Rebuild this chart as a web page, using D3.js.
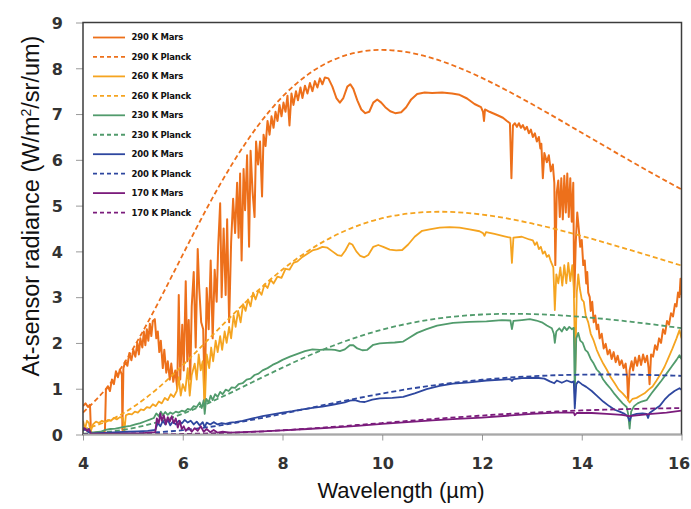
<!DOCTYPE html>
<html><head><meta charset="utf-8">
<script src="https://cdn.jsdelivr.net/npm/d3@7"></script>
<style>html,body{margin:0;padding:0;background:#fff;} svg{display:block;}</style>
</head><body>
<svg id="c" width="691" height="509"></svg>
<script>
// ---------- DATA ----------
const xTicks = [4, 6, 8, 10, 12, 14, 16];
const yTicks = [0, 1, 2, 3, 4, 5, 6, 7, 8, 9];
const legendLabels = ["290 K Mars","290 K Planck","260 K Mars","260 K Planck","230 K Mars","230 K Planck","200 K Mars","200 K Planck","170 K Mars","170 K Planck"];
const seriesColors = ["#ED701B","#F5A420","#519B6C","#2E479F","#7B1C7C"];

const planckWl = [4,4.5,5,5.5,6,6.5,7,7.5,8,8.5,9,9.5,10,10.5,11,11.5,12,12.5,13,13.5,14,14.5,15,15.5,16];
const planck290 = [0.478,1.051,1.870,2.862,3.928,4.974,5.925,6.734,7.380,7.856,8.173,8.348,8.401,8.352,8.222,8.029,7.789,7.515,7.218,6.909,6.591,6.274,5.960,5.653,5.354];
const planck260 = [0.114,0.295,0.595,1.010,1.513,2.061,2.614,3.137,3.604,4.000,4.318,4.558,4.724,4.824,4.864,4.855,4.804,4.720,4.610,4.480,4.336,4.181,4.021,3.856,3.691];
const planck230 = [0.019,0.059,0.140,0.272,0.454,0.679,0.932,1.198,1.461,1.710,1.934,2.129,2.291,2.419,2.516,2.582,2.621,2.636,2.630,2.607,2.569,2.520,2.461,2.395,2.323];
const planck200 = [0.002,0.007,0.022,0.049,0.095,0.160,0.244,0.343,0.452,0.567,0.682,0.792,0.895,0.989,1.070,1.139,1.196,1.240,1.272,1.295,1.307,1.311,1.307,1.297,1.281];
const planck170 = [0.000,0.000,0.002,0.005,0.011,0.023,0.040,0.063,0.092,0.127,0.166,0.208,0.251,0.295,0.337,0.377,0.414,0.448,0.478,0.504,0.526,0.544,0.558,0.569,0.576];

const mars290 = [[4.00,0.62],[4.05,0.68],[4.10,0.60],[4.14,0.65],[4.16,0.05],[4.20,0.03],[4.30,0.05],[4.40,0.04],[4.44,0.08],[4.46,0.98],[4.50,1.05],[4.54,0.95],[4.58,1.20],[4.62,1.10],[4.66,1.38],[4.70,1.25],[4.74,1.42],[4.78,1.30],[4.79,0.10],[4.81,1.45],[4.85,1.60],[4.89,1.50],[4.93,1.78],[4.97,1.62],[5.01,1.85],[5.05,1.70],[5.09,2.00],[5.12,1.75],[5.15,2.10],[5.19,1.90],[5.22,2.25],[5.25,1.95],[5.28,2.30],[5.31,2.05],[5.34,2.42],[5.37,2.15],[5.40,2.48],[5.44,2.52],[5.47,2.10],[5.50,2.25],[5.53,1.80],[5.56,2.05],[5.60,1.45],[5.63,1.85],[5.67,1.35],[5.70,1.60],[5.74,1.20],[5.77,1.55],[5.81,1.15],[5.85,1.40],[5.89,1.00],[5.92,3.05],[5.95,1.20],[5.99,2.40],[6.02,1.40],[6.06,3.35],[6.09,1.60],[6.12,2.50],[6.15,1.20],[6.18,2.80],[6.22,3.55],[6.26,1.90],[6.30,4.05],[6.33,3.20],[6.37,2.45],[6.41,2.30],[6.44,0.75],[6.48,3.20],[6.52,2.30],[6.56,3.80],[6.60,2.10],[6.64,3.60],[6.68,2.90],[6.71,4.10],[6.75,5.05],[6.78,3.00],[6.82,4.50],[6.86,3.05],[6.89,4.70],[6.93,2.45],[6.97,4.20],[7.01,5.15],[7.05,4.40],[7.09,5.50],[7.12,4.30],[7.15,5.70],[7.18,3.80],[7.22,5.80],[7.25,4.90],[7.29,6.10],[7.33,4.10],[7.36,6.20],[7.40,5.30],[7.44,4.75],[7.47,6.40],[7.51,5.90],[7.55,6.40],[7.59,5.20],[7.62,6.55],[7.66,6.30],[7.70,6.85],[7.74,6.55],[7.78,6.95],[7.82,6.70],[7.86,7.05],[7.90,6.85],[7.94,7.20],[7.98,6.95],[8.02,7.25],[8.06,7.05],[8.10,7.40],[8.14,6.75],[8.18,7.45],[8.22,7.20],[8.27,7.50],[8.31,7.30],[8.36,7.58],[8.40,7.35],[8.45,7.62],[8.50,7.45],[8.55,7.68],[8.60,7.50],[8.65,7.72],[8.70,7.58],[8.75,7.78],[8.80,7.65],[8.85,7.80],[8.92,7.78],[9.00,7.60],[9.08,7.35],[9.15,7.25],[9.22,7.35],[9.30,7.60],[9.36,7.65],[9.42,7.55],[9.50,7.30],[9.58,7.10],[9.66,7.02],[9.74,7.05],[9.82,7.25],[9.90,7.32],[9.98,7.25],[10.06,7.15],[10.16,7.06],[10.26,7.02],[10.38,7.04],[10.48,7.15],[10.58,7.32],[10.70,7.44],[10.85,7.47],[11.0,7.46],[11.2,7.47],[11.4,7.45],[11.55,7.42],[11.7,7.34],[11.85,7.22],[11.98,7.15],[12.02,7.05],[12.04,6.85],[12.06,7.10],[12.15,7.05],[12.30,6.98],[12.42,6.92],[12.50,6.85],[12.56,6.80],[12.59,5.60],[12.62,6.75],[12.66,6.80],[12.70,6.72],[12.74,6.80],[12.78,6.70],[12.82,6.76],[12.86,6.66],[12.90,6.72],[12.94,6.58],[12.98,6.66],[13.02,6.50],[13.06,6.58],[13.10,6.40],[13.14,6.50],[13.17,6.25],[13.19,6.35],[13.22,5.60],[13.25,6.15],[13.30,5.95],[13.34,6.10],[13.38,5.75],[13.42,5.90],[13.45,5.50],[13.47,3.70],[13.50,5.30],[13.53,5.55],[13.56,4.75],[13.59,5.60],[13.62,4.70],[13.65,5.65],[13.68,4.85],[13.71,5.70],[13.74,4.75],[13.77,5.60],[13.80,4.65],[13.83,5.50],[13.85,3.00],[13.88,4.20],[13.91,4.85],[13.94,4.50],[13.97,4.10],[14.00,4.25],[14.03,3.70],[14.06,3.80],[14.09,3.30],[14.11,3.55],[14.13,3.10],[14.16,3.00],[14.18,2.70],[14.21,2.90],[14.24,2.45],[14.27,2.60],[14.30,2.30],[14.33,2.40],[14.36,2.10],[14.40,2.20],[14.44,1.88],[14.48,1.98],[14.52,1.75],[14.56,1.85],[14.60,1.65],[14.64,1.80],[14.68,1.58],[14.72,1.72],[14.76,1.52],[14.80,1.62],[14.84,1.45],[14.88,1.55],[14.91,1.25],[14.93,0.75],[14.96,1.40],[15.00,1.60],[15.03,1.40],[15.07,1.68],[15.11,1.50],[15.15,1.72],[15.19,1.52],[15.23,1.75],[15.27,1.58],[15.31,1.72],[15.34,1.45],[15.36,1.10],[15.39,1.75],[15.43,1.70],[15.47,1.95],[15.51,1.85],[15.55,2.10],[15.59,2.00],[15.63,2.30],[15.67,2.20],[15.71,2.48],[15.75,2.40],[15.79,2.65],[15.83,2.58],[15.87,2.85],[15.90,2.80],[15.93,3.10],[15.96,3.00],[15.98,3.40],[16.00,3.05]];

const mars260 = [[4.00,0.30],[4.04,0.12],[4.08,0.30],[4.12,0.25],[4.15,0.05],[4.20,0.22],[4.26,0.28],[4.32,0.25],[4.38,0.30],[4.44,0.27],[4.50,0.32],[4.56,0.30],[4.62,0.36],[4.68,0.33],[4.74,0.38],[4.80,0.36],[4.83,0.08],[4.86,0.42],[4.92,0.45],[4.98,0.44],[5.04,0.50],[5.10,0.48],[5.16,0.55],[5.22,0.53],[5.28,0.60],[5.34,0.58],[5.40,0.66],[5.46,0.62],[5.52,0.72],[5.58,0.68],[5.64,0.80],[5.70,0.75],[5.76,0.88],[5.82,0.82],[5.88,0.95],[5.92,1.25],[5.96,0.85],[6.00,1.10],[6.05,0.95],[6.10,1.45],[6.14,0.85],[6.18,1.30],[6.24,1.55],[6.28,1.20],[6.32,1.75],[6.36,1.40],[6.40,1.60],[6.44,0.55],[6.48,1.75],[6.53,1.45],[6.57,1.90],[6.61,1.60],[6.66,2.05],[6.70,1.80],[6.75,2.15],[6.79,1.85],[6.84,2.25],[6.88,2.00],[6.93,2.35],[6.97,2.10],[7.02,2.60],[7.06,2.35],[7.11,2.70],[7.16,2.45],[7.21,2.85],[7.26,2.70],[7.31,2.95],[7.36,2.80],[7.41,3.10],[7.46,2.95],[7.52,3.15],[7.58,3.05],[7.64,3.28],[7.70,3.20],[7.76,3.38],[7.82,3.30],[7.90,3.45],[7.98,3.42],[8.06,3.62],[8.14,3.60],[8.22,3.75],[8.30,3.78],[8.40,3.88],[8.50,3.95],[8.60,4.02],[8.70,4.05],[8.80,4.10],[8.90,4.08],[9.00,4.00],[9.10,3.92],[9.18,3.90],[9.26,4.02],[9.34,4.18],[9.40,4.15],[9.48,4.00],[9.56,3.90],[9.64,3.87],[9.72,3.92],[9.82,4.10],[9.92,4.14],[10.02,4.10],[10.15,4.04],[10.28,4.02],[10.40,4.03],[10.52,4.15],[10.65,4.32],[10.80,4.45],[10.95,4.48],[11.15,4.52],[11.35,4.53],[11.55,4.52],[11.75,4.48],[11.95,4.44],[12.02,4.40],[12.05,4.34],[12.08,4.42],[12.25,4.38],[12.45,4.33],[12.57,4.30],[12.60,3.75],[12.63,4.30],[12.80,4.32],[12.95,4.26],[13.02,4.24],[13.06,4.14],[13.10,4.20],[13.14,4.05],[13.18,4.10],[13.22,3.95],[13.26,4.00],[13.30,3.88],[13.34,3.92],[13.38,3.78],[13.43,3.65],[13.46,2.72],[13.49,3.50],[13.53,3.30],[13.57,3.65],[13.61,3.25],[13.65,3.70],[13.69,3.30],[13.73,3.75],[13.77,3.35],[13.81,3.70],[13.84,3.20],[13.87,1.40],[13.90,3.10],[13.93,3.50],[13.96,3.20],[14.00,2.95],[14.04,2.90],[14.08,2.60],[14.13,2.45],[14.18,2.20],[14.24,2.05],[14.30,1.85],[14.36,1.70],[14.43,1.55],[14.50,1.42],[14.58,1.25],[14.66,1.12],[14.74,0.98],[14.82,0.90],[14.90,0.80],[14.96,0.70],[15.02,0.78],[15.10,0.80],[15.18,0.85],[15.26,0.90],[15.34,0.98],[15.42,1.05],[15.50,1.18],[15.58,1.32],[15.66,1.48],[15.74,1.68],[15.82,1.88],[15.90,2.10],[15.96,2.28],[16.00,2.10]];

const mars230 = [[4.00,0.15],[4.05,0.10],[4.12,0.12],[4.16,0.04],[4.25,0.05],[4.35,0.06],[4.45,0.10],[4.55,0.12],[4.65,0.13],[4.75,0.15],[4.85,0.17],[4.95,0.19],[5.05,0.22],[5.15,0.25],[5.25,0.29],[5.35,0.33],[5.42,0.36],[5.47,0.46],[5.52,0.40],[5.56,0.50],[5.60,0.42],[5.65,0.49],[5.70,0.43],[5.75,0.48],[5.80,0.45],[5.86,0.50],[5.92,0.48],[5.98,0.52],[6.04,0.50],[6.10,0.56],[6.16,0.54],[6.22,0.62],[6.28,0.60],[6.34,0.70],[6.38,0.58],[6.42,0.75],[6.44,0.45],[6.47,0.78],[6.52,0.70],[6.56,0.85],[6.60,0.75],[6.65,0.88],[6.70,0.82],[6.75,0.93],[6.80,0.88],[6.86,0.98],[6.92,0.95],[6.98,1.03],[7.05,1.02],[7.12,1.10],[7.20,1.12],[7.28,1.20],[7.36,1.22],[7.44,1.30],[7.52,1.33],[7.60,1.40],[7.70,1.45],[7.80,1.52],[7.90,1.57],[8.00,1.63],[8.15,1.70],[8.30,1.76],[8.45,1.82],[8.60,1.86],[8.75,1.85],[8.90,1.86],[9.05,1.85],[9.15,1.82],[9.25,1.86],[9.35,1.95],[9.42,1.95],[9.50,1.88],[9.60,1.84],[9.70,1.85],[9.82,1.96],[9.95,1.99],[10.10,2.00],[10.25,2.01],[10.42,2.03],[10.55,2.12],[10.70,2.22],[10.89,2.30],[11.10,2.38],[11.42,2.44],[11.75,2.46],[12.09,2.47],[12.40,2.50],[12.57,2.49],[12.60,2.30],[12.63,2.48],[12.80,2.50],[12.96,2.52],[13.09,2.49],[13.20,2.45],[13.30,2.38],[13.40,2.32],[13.44,2.20],[13.46,2.00],[13.49,2.25],[13.55,2.32],[13.60,2.25],[13.65,2.35],[13.70,2.28],[13.75,2.35],[13.80,2.30],[13.84,2.33],[13.86,0.90],[13.89,2.10],[13.93,2.22],[13.97,2.05],[14.02,2.00],[14.07,1.85],[14.12,1.80],[14.18,1.65],[14.24,1.55],[14.30,1.42],[14.36,1.35],[14.43,1.20],[14.50,1.10],[14.58,1.00],[14.66,0.88],[14.74,0.78],[14.82,0.68],[14.90,0.60],[14.93,0.45],[14.96,0.13],[14.99,0.50],[15.05,0.62],[15.12,0.68],[15.20,0.72],[15.30,0.75],[15.40,0.90],[15.50,1.04],[15.60,1.18],[15.70,1.33],[15.80,1.48],[15.90,1.63],[15.96,1.73],[16.00,1.65]];

const mars200 = [[4.00,0.08],[4.05,0.12],[4.10,0.06],[4.16,0.02],[4.30,0.03],[4.50,0.04],[4.70,0.05],[4.90,0.06],[5.10,0.07],[5.30,0.08],[5.45,0.10],[5.50,0.25],[5.55,0.18],[5.60,0.30],[5.65,0.22],[5.70,0.32],[5.75,0.20],[5.80,0.28],[5.86,0.22],[5.92,0.30],[5.98,0.24],[6.04,0.32],[6.10,0.26],[6.16,0.30],[6.22,0.22],[6.28,0.28],[6.34,0.20],[6.40,0.27],[6.44,0.16],[6.48,0.26],[6.55,0.22],[6.62,0.27],[6.70,0.22],[6.78,0.25],[6.86,0.23],[6.95,0.26],[7.05,0.27],[7.20,0.30],[7.40,0.35],[7.60,0.40],[7.80,0.44],[8.00,0.48],[8.20,0.51],[8.40,0.55],[8.60,0.58],[8.80,0.61],[9.00,0.65],[9.15,0.68],[9.25,0.70],[9.35,0.74],[9.45,0.75],[9.55,0.72],[9.65,0.71],[9.80,0.76],[9.95,0.79],[10.20,0.80],[10.42,0.82],[10.65,0.90],[10.89,0.99],[11.15,1.06],[11.42,1.11],[11.75,1.14],[12.09,1.18],[12.42,1.20],[12.57,1.21],[12.60,1.17],[12.63,1.21],[12.80,1.23],[13.09,1.24],[13.25,1.22],[13.36,1.16],[13.45,1.12],[13.50,1.18],[13.60,1.13],[13.70,1.18],[13.80,1.14],[13.84,1.16],[13.86,0.57],[13.89,1.10],[13.93,1.16],[14.00,1.10],[14.09,1.04],[14.20,0.95],[14.30,0.85],[14.43,0.72],[14.55,0.62],[14.66,0.54],[14.76,0.50],[14.86,0.45],[14.92,0.40],[14.96,0.30],[15.00,0.42],[15.10,0.45],[15.22,0.46],[15.30,0.45],[15.33,0.36],[15.36,0.47],[15.45,0.54],[15.56,0.62],[15.66,0.76],[15.76,0.87],[15.86,0.95],[15.96,1.01],[16.00,0.98]];

const mars170 = [[4.00,0.10],[4.03,0.14],[4.08,0.08],[4.12,0.12],[4.16,0.02],[4.40,0.02],[4.80,0.02],[5.20,0.03],[5.45,0.05],[5.48,0.35],[5.52,0.25],[5.55,0.46],[5.58,0.30],[5.62,0.42],[5.66,0.22],[5.70,0.38],[5.74,0.28],[5.78,0.40],[5.82,0.25],[5.86,0.35],[5.90,0.15],[5.94,0.30],[5.98,0.12],[6.02,0.18],[6.06,0.08],[6.12,0.15],[6.18,0.06],[6.24,0.14],[6.30,0.08],[6.36,0.18],[6.42,0.06],[6.48,0.12],[6.55,0.05],[6.62,0.10],[6.70,0.04],[6.80,0.06],[6.95,0.04],[7.20,0.05],[7.60,0.07],[8.00,0.09],[8.50,0.12],[9.00,0.15],[9.50,0.19],[10.00,0.23],[10.50,0.27],[11.00,0.31],[11.50,0.34],[12.00,0.37],[12.50,0.41],[13.00,0.45],[13.50,0.48],[13.84,0.48],[13.86,0.42],[13.90,0.47],[14.20,0.47],[14.50,0.45],[14.80,0.43],[14.96,0.40],[15.10,0.42],[15.40,0.45],[15.70,0.48],[16.00,0.52]];

// ---------- CHART ----------
const W = 691, H = 509;
const m = {l: 83, r: 681.5, t: 22.5, b: 434.5};
const x = d3.scaleLinear().domain([4, 16]).range([m.l, m.r]);
const y = d3.scaleLinear().domain([0, 9]).range([m.b, m.t]);
const svg = d3.select('#c');
svg.append('rect').attr('width', W).attr('height', H).attr('fill', '#fff');
svg.append('defs').append('clipPath').attr('id', 'clip')
  .append('rect').attr('x', m.l).attr('y', m.t).attr('width', m.r - m.l).attr('height', m.b - m.t);

// axes
const gy = svg.append('g').attr('transform', `translate(${m.l},0)`)
  .call(d3.axisLeft(y).tickValues(yTicks).tickSize(7).tickFormat(d3.format('d')));
gy.select('.domain').remove();
gy.selectAll('.tick line').attr('stroke', '#9a9a9a');
gy.selectAll('.tick text').attr('x', -20).attr('dy', '0.36em')
  .attr('font-family', 'DejaVu Sans').attr('font-weight', 'bold').attr('font-size', 16).attr('fill', '#333');

const gx = svg.append('g').attr('transform', `translate(0,${m.b})`)
  .call(d3.axisBottom(x).tickValues(xTicks).tickSize(6).tickFormat(d3.format('d')));
gx.select('.domain').remove();
gx.selectAll('.tick line').attr('stroke', '#9a9a9a');
gx.selectAll('.tick text').attr('y', 23).attr('dy', '0.71em')
  .attr('font-family', 'DejaVu Sans').attr('font-weight', 'bold').attr('font-size', 16).attr('fill', '#333')
  .attr('dx', d => d === 16 ? -3 : 0);

// series
const planckSets = [planck290, planck260, planck230, planck200, planck170];
const marsSets = [mars290, mars260, mars230, mars200, mars170];
const lineMars = d3.line().x(d => x(d[0])).y(d => y(d[1]));
const linePlanck = d3.line().x(d => x(d[0])).y(d => y(d[1])).curve(d3.curveNatural);
const plot = svg.append('g').attr('clip-path', 'url(#clip)');
marsSets.forEach((ms, i) => {
  plot.append('path').datum(ms).attr('d', lineMars)
    .attr('fill', 'none').attr('stroke', seriesColors[i]).attr('stroke-width', i === 0 ? 2 : 1.8)
    .attr('stroke-linejoin', 'round');
  const pd = planckWl.map((w, k) => [w, planckSets[i][k]]);
  plot.append('path').datum(pd).attr('d', linePlanck)
    .attr('fill', 'none').attr('stroke', seriesColors[i]).attr('stroke-width', 1.8)
    .attr('stroke-dasharray', '5,3');
});

// frame
svg.append('rect').attr('x', m.l).attr('y', m.t).attr('width', m.r - m.l).attr('height', m.b - m.t)
  .attr('fill', 'none').attr('stroke', '#3c3c3c').attr('stroke-width', 1.5);
svg.append('line').attr('x1', m.l).attr('x2', m.r).attr('y1', m.b).attr('y2', m.b)
  .attr('stroke', '#a8a8a8').attr('stroke-width', 1.5);

// legend
const lg = svg.append('g');
legendLabels.forEach((lab, i) => {
  const yy = 37.5 + i * 19.45;
  lg.append('line').attr('x1', 93).attr('x2', 125).attr('y1', yy).attr('y2', yy)
    .attr('stroke', seriesColors[Math.floor(i / 2)]).attr('stroke-width', 1.8)
    .attr('stroke-dasharray', i % 2 ? '4,3' : null);
  lg.append('text').attr('x', 131.5).attr('y', yy).attr('dy', '0.35em').text(lab)
    .attr('font-family', 'DejaVu Sans').attr('font-weight', 'bold').attr('font-size', 8.5)
    .attr('letter-spacing', -0.2).attr('fill', '#111');
});

// titles
svg.append('text').attr('x', 401).attr('y', 498).attr('text-anchor', 'middle')
  .attr('font-family', 'Liberation Sans, Arial, sans-serif').attr('font-size', 22).attr('fill', '#111')
  .text('Wavelength (\u00B5m)');
const yt = svg.append('text').attr('transform', 'translate(39,206) rotate(-90)').attr('text-anchor', 'middle')
  .attr('font-family', 'Liberation Sans, Arial, sans-serif').attr('font-size', 23.5).attr('fill', '#111');
yt.append('tspan').text('At-sensor radiance (W/m');
yt.append('tspan').attr('dy', -8).attr('font-size', 14).text('2');
yt.append('tspan').attr('dy', 8).text('/sr/um)');
</script>
</body></html>
